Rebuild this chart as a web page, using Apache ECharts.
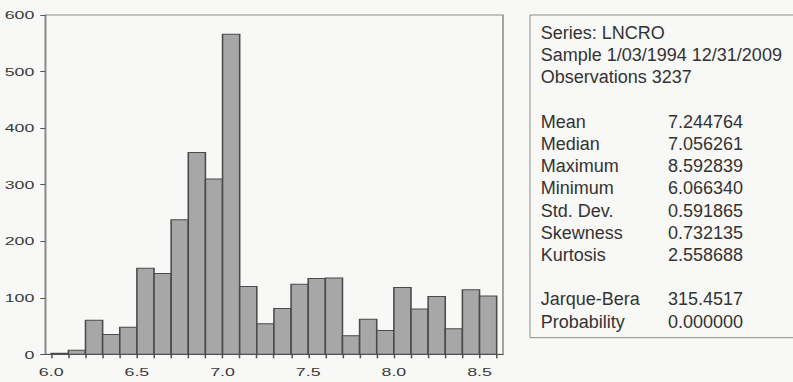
<!DOCTYPE html>
<html>
<head>
<meta charset="utf-8">
<script src="https://cdn.jsdelivr.net/npm/echarts@6/dist/echarts.min.js"></script>
<style>
  html, body { margin: 0; padding: 0; background: #f8f8f6; }
  #wrap { position: relative; width: 793px; height: 382px; overflow: hidden; }
  #hist { position: absolute; left: 0; top: 0; width: 340px; height: 382px; transform: scaleX(1.55); transform-origin: 0 0; }
  #stats { position: absolute; left: 520px; top: 0; width: 273px; height: 382px; }
</style>
</head>
<body>
<div id="wrap">
  <div id="hist"></div>
  <div id="stats"></div>
</div>
<script>
// ---- data ----
const binWidth = 0.1;
const binLeft = [6.0, 6.1, 6.2, 6.3, 6.4, 6.5, 6.6, 6.7, 6.8, 6.9, 7.0, 7.1, 7.2,
                 7.3, 7.4, 7.5, 7.6, 7.7, 7.8, 7.9, 8.0, 8.1, 8.2, 8.3, 8.4, 8.5];
const counts  = [2, 7, 60, 35, 48, 152, 143, 238, 357, 310, 566, 120, 54,
                 81, 124, 134, 135, 33, 62, 42, 118, 80, 102, 45, 114, 103];
const xTickMarks = [6.0, 6.1, 6.2, 6.3, 6.4, 6.5, 6.6, 6.7, 6.8, 6.9, 7.0, 7.1, 7.2, 7.3,
                    7.4, 7.5, 7.6, 7.7, 7.8, 7.9, 8.0, 8.1, 8.2, 8.3, 8.4, 8.5, 8.6];
const xTickLabels = [6.0, 6.5, 7.0, 7.5, 8.0, 8.5];
const yTickLabels = [0, 100, 200, 300, 400, 500, 600];

const headerLines = ['Series: LNCRO', 'Sample 1/03/1994 12/31/2009', 'Observations 3237'];
const statNames  = ['Mean', 'Median', 'Maximum', 'Minimum', 'Std. Dev.', 'Skewness', 'Kurtosis', '', 'Jarque-Bera', 'Probability'];
const statValues = ['7.244764', '7.056261', '8.592839', '6.066340', '0.591865', '0.732135', '2.558688', '', '315.4517', '0.000000'];

// ---- histogram ----
const SX = 1.55;
const FONT = '"Liberation Sans", Arial, sans-serif';
const hist = echarts.init(document.getElementById('hist'), null, { renderer: 'svg' });
hist.setOption({
  animation: false,
  backgroundColor: 'transparent',
  grid: {
    left: 44 / SX, top: 15, width: (503 - 44) / SX, height: 339.3,
    show: true, borderColor: '#8c8c8c', borderWidth: 1, backgroundColor: 'transparent'
  },
  xAxis: {
    type: 'value', min: 5.965, max: 8.637,
    axisLine: { show: true, lineStyle: { color: '#555', width: 1 } },
    axisTick: { show: true, length: 4, customValues: xTickMarks, lineStyle: { color: '#555' } },
    axisLabel: { customValues: xTickLabels, margin: 11, color: '#3a3a3a', fontSize: 11.5, fontFamily: FONT,
                 formatter: v => Number(v).toFixed(1) },
    splitLine: { show: false }
  },
  yAxis: {
    type: 'value', min: 0, max: 600, interval: 100,
    axisLine: { show: true, lineStyle: { color: '#8c8c8c', width: 1 } },
    axisTick: { show: true, length: 5 / SX, lineStyle: { color: '#555' } },
    axisLabel: { customValues: yTickLabels, margin: 7, color: '#3a3a3a', fontSize: 11.5, fontFamily: FONT },
    splitLine: { show: false }
  },
  series: [{
    type: 'custom',
    data: binLeft.map((b, i) => [b, counts[i]]),
    encode: { x: 0, y: 1 },
    renderItem: function (params, api) {
      const x0 = api.value(0), v = api.value(1);
      const p0 = api.coord([x0, 0]);
      const p1 = api.coord([x0 + binWidth, v]);
      return {
        type: 'rect',
        shape: { x: p0[0], y: p1[1], width: p1[0] - p0[0], height: p0[1] - p1[1] },
        style: { fill: '#a7a7a7', stroke: '#4a4a4a', lineWidth: 1 }
      };
    }
  }]
});

// ---- statistics panel ----
const stats = echarts.init(document.getElementById('stats'), null, { renderer: 'svg' });
const elems = [{
  type: 'rect', shape: { x: 10, y: 15, width: 320, height: 322.7 },
  style: { fill: 'transparent', stroke: '#8c8c8c', lineWidth: 1 }
}];
const lineH = 22.2, y0 = 33, xName = 20.7, xVal = 148;
const textStyle = (t, x, y) => ({
  type: 'text', x: x, y: y,
  style: { text: t, fill: '#333', font: '18px ' + FONT, textVerticalAlign: 'middle', textAlign: 'left' }
});
headerLines.forEach((t, i) => elems.push(textStyle(t, xName, y0 + i * lineH)));
statNames.forEach((t, i) => {
  const y = y0 + (i + 4) * lineH;
  if (t) elems.push(textStyle(t, xName, y));
  if (statValues[i]) elems.push(textStyle(statValues[i], xVal, y));
});
stats.setOption({ animation: false, backgroundColor: 'transparent', graphic: { elements: elems } });
</script>
</body>
</html>
